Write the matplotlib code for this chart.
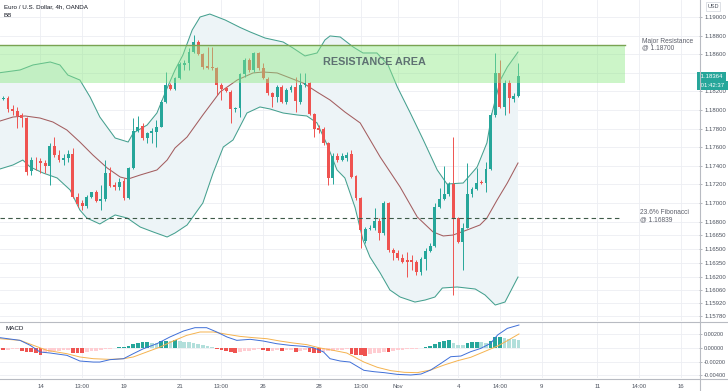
import matplotlib
matplotlib.use('Agg')
import matplotlib.pyplot as plt
from matplotlib.patches import Rectangle
from matplotlib.lines import Line2D
import matplotlib.transforms as mtrans
import numpy as np

# ---------------- data ----------------
opens = [1.18116, 1.18130, 1.18008, 1.17986, 1.17943, 1.17911, 1.17347, 1.17455, 1.17452, 1.17433,
         1.17398, 1.17613, 1.17516, 1.17462, 1.17481, 1.17527, 1.17068, 1.16997, 1.16967, 1.17068,
         1.17115, 1.17021, 1.17040, 1.17326, 1.17193, 1.17169, 1.17236, 1.17050, 1.17373, 1.17778,
         1.17828, 1.17702, 1.17756, 1.17767, 1.17821, 1.18090, 1.18269, 1.18226, 1.18342, 1.18485,
         1.18509, 1.18628, 1.18735, 1.18603, 1.18474, 1.18460, 1.18449, 1.18269, 1.18234, 1.18197,
         1.18008, 1.18019, 1.18388, 1.18538, 1.18431, 1.18617, 1.18449, 1.18331, 1.18187, 1.18144,
         1.18245, 1.18090, 1.18216, 1.18251, 1.18090, 1.18269, 1.18294, 1.17957, 1.17804, 1.17793,
         1.17649, 1.17266, 1.17509, 1.17462, 1.17481, 1.17527, 1.17290, 1.17050, 1.16594, 1.16717,
         1.16734, 1.16809, 1.16674, 1.16997, 1.16494, 1.16465, 1.16405, 1.16386, 1.16386, 1.16362,
         1.16261, 1.16394, 1.16487, 1.16537, 1.16960, 1.17040, 1.17097, 1.17204, 1.16835, 1.16583,
         1.16734, 1.17097, 1.17147, 1.17226, 1.17212, 1.17362, 1.17947, 1.18402, 1.18036, 1.18288,
         1.18122, 1.18151]
highs = [1.18151, 1.18151, 1.18054, 1.18030, 1.17965, 1.17925, 1.17498, 1.17498, 1.17481, 1.17462,
         1.17642, 1.17707, 1.17570, 1.17527, 1.17570, 1.17588, 1.17104, 1.17032, 1.17086, 1.17121,
         1.17140, 1.17193, 1.17462, 1.17390, 1.17229, 1.17266, 1.17266, 1.17390, 1.17911, 1.17936,
         1.17857, 1.17767, 1.17804, 1.17893, 1.18108, 1.18413, 1.18288, 1.18359, 1.18520, 1.18538,
         1.18664, 1.18807, 1.18754, 1.18617, 1.18682, 1.18682, 1.18466, 1.18288, 1.18251, 1.18216,
         1.18036, 1.18402, 1.18557, 1.18557, 1.18628, 1.18628, 1.18503, 1.18359, 1.18197, 1.18269,
         1.18269, 1.18234, 1.18269, 1.18359, 1.18395, 1.18402, 1.18305, 1.17965, 1.17839, 1.17821,
         1.17659, 1.17535, 1.17535, 1.17535, 1.17549, 1.17570, 1.17301, 1.17068, 1.16745, 1.16763,
         1.16943, 1.16835, 1.17025, 1.17014, 1.16512, 1.16494, 1.16451, 1.16476, 1.16440, 1.16386,
         1.16422, 1.16512, 1.16566, 1.16997, 1.17158, 1.17398, 1.17229, 1.17710, 1.16852, 1.16781,
         1.17427, 1.17175, 1.17373, 1.17247, 1.17444, 1.17965, 1.18611, 1.18538, 1.18323, 1.18323,
         1.18180, 1.18503]
lows = [1.18103, 1.17982, 1.17947, 1.17804, 1.17821, 1.17301, 1.17301, 1.17355, 1.17319, 1.17319,
        1.17193, 1.17498, 1.17444, 1.17409, 1.17444, 1.17050, 1.16960, 1.16924, 1.16943, 1.17050,
        1.17014, 1.16924, 1.17025, 1.17175, 1.17140, 1.17140, 1.17032, 1.17040, 1.17366, 1.17767,
        1.17678, 1.17642, 1.17642, 1.17599, 1.17814, 1.18079, 1.18216, 1.18216, 1.18331, 1.18431,
        1.18431, 1.18617, 1.18592, 1.18438, 1.18438, 1.18431, 1.18162, 1.18108, 1.18197, 1.17864,
        1.17982, 1.17922, 1.18359, 1.18413, 1.18413, 1.18431, 1.18331, 1.18162, 1.18036, 1.18090,
        1.18073, 1.18065, 1.18197, 1.17982, 1.18065, 1.18251, 1.17947, 1.17713, 1.17750, 1.17624,
        1.17193, 1.17204, 1.17444, 1.17455, 1.17452, 1.17266, 1.17032, 1.16512, 1.16566, 1.16709,
        1.16709, 1.16602, 1.16655, 1.16476, 1.16386, 1.16386, 1.16351, 1.16207, 1.16279, 1.16225,
        1.16225, 1.16279, 1.16476, 1.16530, 1.16943, 1.17032, 1.17075, 1.16010, 1.16566, 1.16279,
        1.16728, 1.17068, 1.17140, 1.17204, 1.17121, 1.17355, 1.17928, 1.18019, 1.17947, 1.17965,
        1.18090, 1.18144]
closes = [1.18133, 1.18008, 1.17986, 1.17936, 1.17911, 1.17337, 1.17462, 1.17448, 1.17427, 1.17398,
          1.17613, 1.17516, 1.17462, 1.17487, 1.17527, 1.17068, 1.16989, 1.16971, 1.17068, 1.17115,
          1.17025, 1.17040, 1.17326, 1.17186, 1.17169, 1.17229, 1.17050, 1.17373, 1.17774, 1.17821,
          1.17696, 1.17750, 1.17774, 1.17821, 1.18090, 1.18269, 1.18223, 1.18345, 1.18492, 1.18509,
          1.18628, 1.18735, 1.18603, 1.18466, 1.18456, 1.18449, 1.18269, 1.18223, 1.18208, 1.18008,
          1.18025, 1.18388, 1.18538, 1.18431, 1.18617, 1.18449, 1.18342, 1.18187, 1.18144, 1.18251,
          1.18090, 1.18216, 1.18245, 1.18101, 1.18269, 1.18294, 1.17957, 1.17793, 1.17785, 1.17649,
          1.17266, 1.17505, 1.17462, 1.17505, 1.17516, 1.17283, 1.17050, 1.16709, 1.16717, 1.16734,
          1.16809, 1.16674, 1.16997, 1.16494, 1.16465, 1.16405, 1.16362, 1.16362, 1.16362, 1.16261,
          1.16394, 1.16487, 1.16537, 1.16960, 1.17040, 1.17097, 1.17204, 1.16835, 1.16583, 1.16734,
          1.17097, 1.17147, 1.17218, 1.17212, 1.17362, 1.17947, 1.18402, 1.18036, 1.18288, 1.18126,
          1.18151, 1.18364]

# Bollinger bands, read at sample points (x in candle-index units)
upper_idx = [-0.7, 3.6, 6.4, 10.1, 12.2, 13.9, 16.5, 18.7, 20.8, 24.1, 26.9, 28, 31, 33.1, 35.3, 37,
             38.7, 40.7, 42.4, 44.5, 47.8, 51, 53.2, 56.4, 60.3, 62.4, 65, 67.6, 69.3, 70.4, 72.6, 75.4,
             77.5, 80.5, 82.9, 84.9, 87.7, 90.5, 93.5, 95.6, 99.1, 102.1, 104.2, 105.3, 107.1, 108.6, 110.9]
upper_val = [1.18402, 1.18431, 1.18485, 1.18517, 1.18485, 1.18377, 1.18323, 1.18140, 1.17925, 1.17699,
             1.17656, 1.17753, 1.17839, 1.17968, 1.18237, 1.18431, 1.18592, 1.18861, 1.19001, 1.19033,
             1.18969, 1.18889, 1.18840, 1.18775, 1.18732, 1.18668, 1.18582, 1.18614, 1.18754, 1.18797,
             1.18786, 1.18678, 1.18614, 1.18614, 1.18485, 1.18248, 1.17968, 1.17678, 1.17355, 1.17204,
             1.17215, 1.17387, 1.17646, 1.17968, 1.18323, 1.18463, 1.18624]
middle_idx = [-0.7, 2.1, 4.7, 7.9, 10.7, 13.7, 16.5, 19.3, 22.4, 25.2, 26.9, 29.5, 33.1, 35.3, 37, 39.6,
              43.0, 46.7, 50.4, 53.8, 56, 59, 61.8, 64.6, 67.6, 70.4, 73.6, 76.9, 81.2, 85.5, 89.2, 92.6,
              94.8, 96.9, 99.9, 102.7, 104.2, 106.4, 108.6, 110.9]
middle_val = [1.17882, 1.17925, 1.17936, 1.17914, 1.17871, 1.17785, 1.17656, 1.17516, 1.17376, 1.17279,
              1.17258, 1.17301, 1.17355, 1.17462, 1.17592, 1.17710, 1.17947, 1.18194, 1.18323, 1.18399,
              1.18409, 1.18399, 1.18345, 1.18291, 1.18194, 1.18108, 1.17979, 1.17861, 1.17495, 1.17172,
              1.16849, 1.16688, 1.16645, 1.16655, 1.16709, 1.16763, 1.16838, 1.17032, 1.17215, 1.17430]
lower_idx = [-0.7, 2.1, 4.2, 5.8, 8.6, 11.6, 14.4, 16.5, 18, 20.8, 22.6, 24.1, 26.7, 29.5, 32.3, 35.3,
             37, 39.6, 43, 45.2, 47.4, 49.5, 52.5, 55.3, 57.5, 60.3, 63.3, 65.4, 67.6, 69.8, 71.9, 73.6,
             75.8, 77.5, 79.0, 81.2, 83.3, 85.5, 88.7, 90.9, 93.0, 94.6, 97.8, 101.7, 103.8, 106, 108.1, 110.9]
lower_val = [1.17366, 1.17409, 1.17462, 1.17387, 1.17322, 1.17269, 1.17140, 1.16924, 1.16838, 1.16774,
             1.16828, 1.16871, 1.16838, 1.16741, 1.16688, 1.16634, 1.16677, 1.16763, 1.17000, 1.17322,
             1.17602, 1.17678, 1.17968, 1.18033, 1.18011, 1.17968, 1.17947, 1.17936, 1.17861, 1.17624,
             1.17355, 1.17269, 1.16950, 1.16602, 1.16419, 1.16247, 1.16064, 1.15988, 1.15934, 1.15956,
             1.15988, 1.16085, 1.16096, 1.16074, 1.16010, 1.15902, 1.15934, 1.16203]

# MACD pane
hist = [-0.00029, -0.00024, -0.00019, -0.00019, -0.00039, -0.00054, -0.00063, -0.00078, -0.00097, -0.00068,
        -0.00058, -0.00049, -0.00039, -0.00034, -0.00024, -0.00068, -0.00073, -0.00078, -0.00058, -0.00049,
        -0.00039, -0.00029, -0.00019, -0.00010, 0.00005, 0.00010, 0.00015, 0.00024, 0.00063, 0.00078,
        0.00088, 0.00093, 0.00073, 0.00068, 0.00102, 0.00107, 0.00102, 0.00112, 0.00102, 0.00093,
        0.00083, 0.00073, 0.00063, 0.00049, 0.00034, 0.00015, -0.00019, -0.00034, -0.00044, -0.00058,
        -0.00073, -0.00058, -0.00049, -0.00039, -0.00024, -0.00015, -0.00034, -0.00044, -0.00039, -0.00029,
        -0.00049, -0.00034, -0.00024, -0.00058, -0.00039, -0.00029, -0.00063, -0.00068, -0.00073, -0.00063,
        -0.00049, -0.00039, -0.00029, -0.00024, -0.00019, -0.00088, -0.00097, -0.00102, -0.00112, -0.00088,
        -0.00078, -0.00068, -0.00058, -0.00063, -0.00044, -0.00034, -0.00029, -0.00019, -0.00015, -0.00010,
        -0.00005, 0.00010, 0.00024, 0.00058, 0.00088, 0.00097, 0.00112, 0.00068, 0.00049, 0.00044,
        0.00078, 0.00083, 0.00088, 0.00083, 0.00078, 0.00107, 0.00161, 0.00166, 0.00141, 0.00131,
        0.00127, 0.00122]
macd_idx = [-0.7, 3.6, 5.8, 7.9, 10.1, 13.7, 16.5, 19.4, 20.8, 23, 25.9, 28, 30.2, 33.1, 35.9, 38.8,
            41.3, 43.8, 46, 48.2, 50.3, 53.2, 56, 58.9, 61.8, 64.7, 66.8, 69, 70.4, 72.6, 74.7, 77.7,
            79.9, 82.1, 84.9, 87.8, 90, 92.1, 94.3, 96.4, 98.6, 100.7, 102.9, 105, 106.5, 108.6, 111.1]
macd_val = [0.00151, 0.00112, 0.00039, -0.00058, -0.00073, -0.00107, -0.00190, -0.00205, -0.00205, -0.00170,
            -0.00156, -0.00083, -0.00010, 0.00063, 0.00161, 0.00248, 0.00297, 0.00297, 0.00234, 0.00161,
            0.00112, 0.00127, 0.00102, 0.00063, 0.00039, 0.00024, 0.00005, -0.00058, -0.00156, -0.00190,
            -0.00205, -0.00326, -0.00346, -0.00360, -0.00385, -0.00394, -0.00380, -0.00321, -0.00224, -0.00127,
            -0.00117, -0.00054, -0.00005, 0.00068, 0.00190, 0.00287, 0.00336]
signal_idx = [-0.7, 3.6, 6.5, 9.4, 13.7, 16.5, 19.4, 23, 25.9, 28, 30.9, 33.8, 36.6, 39.5, 42.4, 45.3,
              48.2, 51, 53.9, 56.8, 59.6, 62.5, 65.4, 68.3, 71.1, 74, 77.7, 80.6, 83.5, 86.4, 89.2, 92.1,
              95, 97.9, 100.7, 103.6, 106.5, 108.6, 111.1]
signal_val = [0.00136, 0.00112, 0.00039, -0.00034, -0.00083, -0.00131, -0.00156, -0.00166, -0.00156, -0.00131,
              -0.00058, 0.00015, 0.00102, 0.00185, 0.00234, 0.00234, 0.00200, 0.00170, 0.00151, 0.00136,
              0.00102, 0.00073, 0.00049, 0.00000, -0.00034, -0.00073, -0.00205, -0.00282, -0.00331, -0.00355,
              -0.00360, -0.00321, -0.00248, -0.00185, -0.00136, -0.00054, 0.00029, 0.00107, 0.00205]

# levels / annotations
res_top = 1.18700
res_bottom = 1.18290
fib_level = 1.16839
last_price = 1.18364

price_ticks = [1.19000, 1.18800, 1.18600, 1.18400, 1.18200, 1.18000, 1.17800, 1.17600, 1.17400,
               1.17200, 1.17000, 1.16800, 1.16650, 1.16500, 1.16350, 1.16200, 1.16060, 1.15920, 1.15780]
hidden_price_tick = 1.18400   # covered by the last-price box in the reference
macd_ticks = [0.002, 0.0, -0.002, -0.004]
macd_tick_labels = ['0.00200', '0.00000', '-0.00200', '-0.00400']
time_tick_pos = [8, 17, 26, 38, 47, 56, 68, 77, 85, 98, 107, 116, 128, 137, 146]
time_tick_labels = ['14', '13:00', '19', '21', '13:00', '26', '28', '13:00', 'Nov', '4', '14:00',
                    '9', '11', '14:00', '16']

# ---------------- figure ----------------
W, H = 728, 391
fig = plt.figure(figsize=(W / 100, H / 100), dpi=100)
fig.patch.set_facecolor('white')
plt.rcParams['font.family'] = ['Liberation Sans', 'DejaVu Sans']

ax = fig.add_axes([0, 70 / H, 699 / W, 321 / H])
ax2 = fig.add_axes([0, 13 / H, 699 / W, 56 / H], sharex=ax)

xlim = (-0.711, 149.9)
ax.set_xlim(*xlim)
ax.set_ylim(1.15730, 1.19184)
ax2.set_ylim(-0.00438, 0.0038)

up_c, dn_c = '#26a69a', '#ef5350'
grid_c = '#eceef3'
txt_c = '#4c525e'

for a in (ax, ax2):
    for s in a.spines.values():
        s.set_visible(False)
    a.set_facecolor('none')
    a.set_xticks(time_tick_pos)
    a.grid(True, color=grid_c, lw=0.6, zorder=0)
    a.set_axisbelow(True)
    a.yaxis.tick_right()
    a.tick_params(axis='y', length=2.5, width=0.5, color='#9598a1', labelsize=4.3,
                  labelcolor=txt_c, pad=1.5)

ax.set_yticks(price_ticks)
ax.set_yticklabels(['' if v == hidden_price_tick else f'{v:.5f}' for v in price_ticks])
ax.tick_params(axis='x', length=0, labelbottom=False)
ax2.set_yticks(macd_ticks)
ax2.set_yticklabels(macd_tick_labels)
ax2.tick_params(axis='y', labelsize=4.0, pad=1.2)
ax2.set_xticklabels(time_tick_labels)
ax2.tick_params(axis='x', length=0, labelsize=4.3, labelcolor=txt_c, pad=4)

# Bollinger band fill & lines
poly_x = np.concatenate([upper_idx, lower_idx[::-1]])
poly_y = np.concatenate([upper_val, lower_val[::-1]])
ax.fill(poly_x, poly_y, color='#edf4f7', lw=0, zorder=1)
band_c = '#45a08f'
ax.plot(upper_idx, upper_val, color=band_c, lw=0.75, zorder=2)
ax.plot(lower_idx, lower_val, color=band_c, lw=0.75, zorder=2)
ax.plot(middle_idx, middle_val, color='#a35d5f', lw=0.75, zorder=2)

# candles
idx = np.arange(len(opens))
o = np.array(opens); h = np.array(highs); l = np.array(lows); c = np.array(closes)
cols = np.where(c >= o, up_c, dn_c)
ax.vlines(idx, l, h, colors=cols, lw=0.7, zorder=3)
body_lo = np.minimum(o, c)
body_h = np.maximum(np.abs(c - o), 0.00009)
ax.bar(idx, body_h, bottom=body_lo, width=0.62, color=cols, lw=0, zorder=3)

# resistance area
ax.add_patch(Rectangle((xlim[0], res_bottom), 134 - xlim[0], res_top - res_bottom,
                       facecolor='#8fe985', alpha=0.45, lw=0, zorder=4))
ax.plot([xlim[0], 134], [res_top, res_top], color='#79a352', lw=1.0, zorder=5)
ax.text(80, 1.18517, 'RESISTANCE AREA', ha='center', va='center', fontsize=7.8,
        fontweight='bold', color='#5e7172', zorder=6)
ax.text(137.6, 1.18705, 'Major Resistance\n@ 1.18700', ha='left', va='center', fontsize=4.8,
        color='#5d606b', linespacing=1.0, zorder=6)

# fibonacci
ax.plot([xlim[0], 133], [fib_level, fib_level], color='#3e5a48', lw=0.8, ls=(0, (4, 3)), zorder=5)
ax.text(137.2, 1.16855, '23.6% Fibonacci\n@ 1.16839', ha='left', va='center', fontsize=4.8,
        color='#5d606b', linespacing=1.0, zorder=6)

# last price boxes
trans = mtrans.blended_transform_factory(ax.transAxes, ax.transData)
ax.text(1.0, last_price, ' 1.18364 ', transform=trans, ha='left', va='center', fontsize=4.3,
        color='white', zorder=10, clip_on=False,
        bbox=dict(boxstyle='square,pad=0.35', fc=up_c, ec='none'))
ax.annotate(' 01:42:37 ', xy=(1.0, last_price), xycoords=trans, xytext=(0, -6.8),
            textcoords='offset points', ha='left', va='center', fontsize=4.3, color='white',
            zorder=10, annotation_clip=False,
            bbox=dict(boxstyle='square,pad=0.35', fc=up_c, ec='none'))

# MACD histogram and lines
hv = np.array(hist)
prev = np.concatenate([[0.0], hv[:-1]])
hcols = np.where(hv >= 0, np.where(hv >= prev, '#26a69a', '#b2dfdb'),
                 np.where(hv < prev, '#ef5350', '#ffcdd2'))
ax2.bar(np.arange(len(hv)), hv, width=0.8, color=hcols, lw=0, zorder=2)
ax2.plot(signal_idx, signal_val, color='#f5b34f', lw=0.7, zorder=3)
ax2.plot(macd_idx, macd_val, color='#3f6fd8', lw=0.7, zorder=4)

# labels
fig.text(4 / W, 1 - 6.5 / H, 'Euro / U.S. Dollar, 4h, OANDA', fontsize=4.5, color='#131722',
         va='center', ha='left')
fig.text(4 / W, 1 - 15.5 / H, 'BB', fontsize=4.5, color='#131722', va='center', ha='left')
fig.text(5 / W, 1 - 329 / H, 'MACD', fontsize=4.5, color='#131722', va='center', ha='left')
fig.text(713 / W, 1 - 6.5 / H, 'USD', fontsize=4.0, color=txt_c, va='center', ha='center',
         bbox=dict(boxstyle='square,pad=0.3', fc='white', ec='#d1d4dc', lw=0.5))

# separators
sep_c = '#b8bbc2'
fig.add_artist(Line2D([0, 1], [1 - 321.5 / H, 1 - 321.5 / H], transform=fig.transFigure,
                      color=sep_c, lw=0.8))
fig.add_artist(Line2D([0, 1], [1 - 378.5 / H, 1 - 378.5 / H], transform=fig.transFigure,
                      color=sep_c, lw=0.8))
fig.add_artist(Line2D([699.5 / W, 699.5 / W], [0, 1], transform=fig.transFigure,
                      color=sep_c, lw=0.8))

fig.savefig('out.png', dpi=100, facecolor='white')
